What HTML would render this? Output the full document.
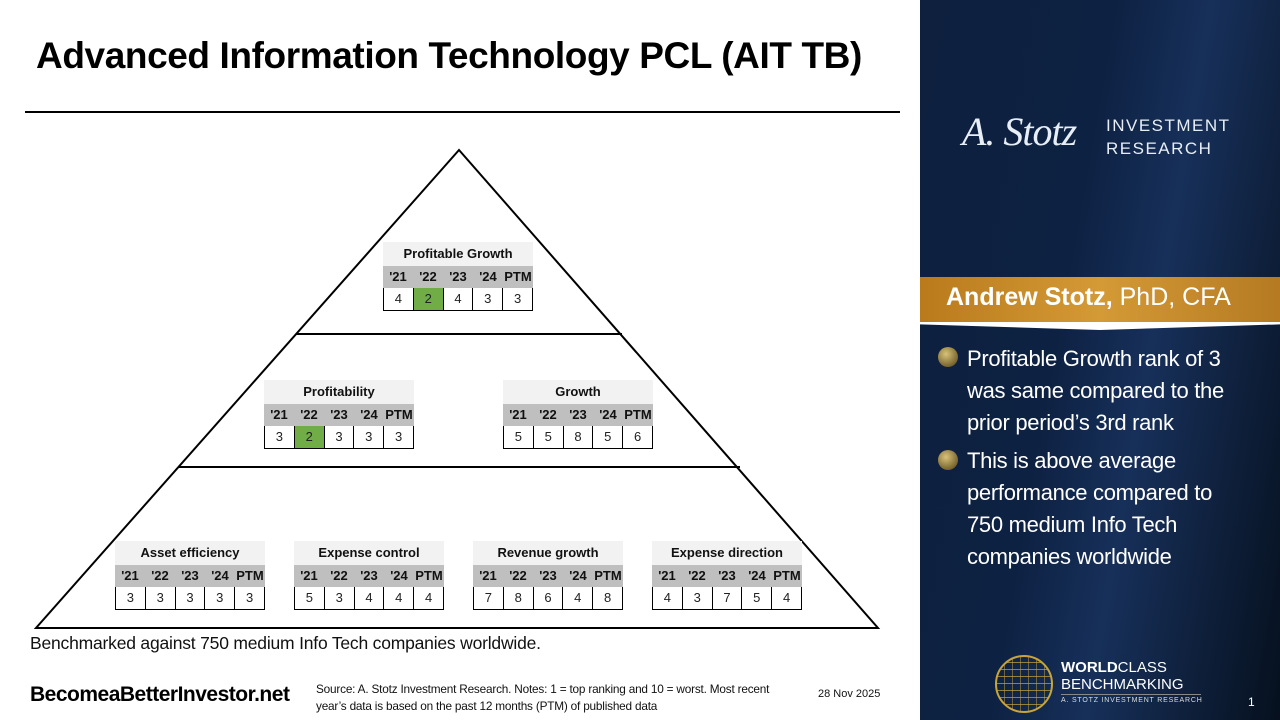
<!DOCTYPE html>
<html><head><meta charset="utf-8"><style>
*{margin:0;padding:0;box-sizing:border-box}
body{width:1280px;height:720px;position:relative;background:#fff;font-family:"Liberation Sans",sans-serif;overflow:hidden}
.a{position:absolute}
.tb{position:absolute;width:150px;font-family:"Liberation Sans",sans-serif}
.tt{height:24px;background:#f2f2f2;font-weight:bold;font-size:13px;text-align:center;line-height:24px;color:#111}
.hd{height:22px;background:#bfbfbf;font-weight:bold;font-size:13px;display:flex;line-height:22px;color:#111}
.hd span{width:30px;text-align:center;white-space:nowrap}
.dr{height:23px;display:flex;border-left:1px solid #000;border-bottom:1px solid #000}
.dr span{width:30px;text-align:center;font-size:13px;line-height:22px;border-right:1px solid #000;color:#222}
.g{background:#70ad47}
.rp{left:920px;top:0;width:360px;height:720px;background:linear-gradient(100deg,#0e203e 0%,#0d2142 40%,#17305a 60%,#06101e 100%)}
.bl{color:#fff;font-size:22px;line-height:32px;position:absolute;left:967px;font-family:"Liberation Sans",sans-serif;letter-spacing:-0.3px}
.dot{position:absolute;width:20px;height:20px;border-radius:50%;background:radial-gradient(circle at 40% 35%,#d8c27a,#7a6630 70%,#3d3318);left:938px}
</style></head><body>
<div class="a" style="left:36px;top:35px;font-size:37px;font-weight:bold;color:#000;letter-spacing:-0.4px">Advanced Information Technology PCL (AIT TB)</div>
<div class="a" style="left:25px;top:111px;width:875px;height:2px;background:#000"></div>
<svg class="a" style="left:0;top:0" width="920" height="720">
<polygon points="459,150 36,628 878,628" fill="none" stroke="#000" stroke-width="2"/>
<line x1="296" y1="334" x2="622" y2="334" stroke="#000" stroke-width="2"/>
<line x1="178" y1="467" x2="740" y2="467" stroke="#000" stroke-width="2"/>
</svg>

<div class="tb" style="left:383px;top:242px"><div class="tt">Profitable Growth</div><div class="hd"><span>'21</span><span>'22</span><span>'23</span><span>'24</span><span>PTM</span></div><div class="dr"><span>4</span><span class="g">2</span><span>4</span><span>3</span><span>3</span></div></div>
<div class="tb" style="left:264px;top:380px"><div class="tt">Profitability</div><div class="hd"><span>'21</span><span>'22</span><span>'23</span><span>'24</span><span>PTM</span></div><div class="dr"><span>3</span><span class="g">2</span><span>3</span><span>3</span><span>3</span></div></div>
<div class="tb" style="left:503px;top:380px"><div class="tt">Growth</div><div class="hd"><span>'21</span><span>'22</span><span>'23</span><span>'24</span><span>PTM</span></div><div class="dr"><span>5</span><span>5</span><span>8</span><span>5</span><span>6</span></div></div>
<div class="tb" style="left:115px;top:541px"><div class="tt">Asset efficiency</div><div class="hd"><span>'21</span><span>'22</span><span>'23</span><span>'24</span><span>PTM</span></div><div class="dr"><span>3</span><span>3</span><span>3</span><span>3</span><span>3</span></div></div>
<div class="tb" style="left:294px;top:541px"><div class="tt">Expense control</div><div class="hd"><span>'21</span><span>'22</span><span>'23</span><span>'24</span><span>PTM</span></div><div class="dr"><span>5</span><span>3</span><span>4</span><span>4</span><span>4</span></div></div>
<div class="tb" style="left:473px;top:541px"><div class="tt">Revenue growth</div><div class="hd"><span>'21</span><span>'22</span><span>'23</span><span>'24</span><span>PTM</span></div><div class="dr"><span>7</span><span>8</span><span>6</span><span>4</span><span>8</span></div></div>
<div class="tb" style="left:652px;top:541px"><div class="tt">Expense direction</div><div class="hd"><span>'21</span><span>'22</span><span>'23</span><span>'24</span><span>PTM</span></div><div class="dr"><span>4</span><span>3</span><span>7</span><span>5</span><span>4</span></div></div>

<div class="a" style="left:30px;top:633px;font-size:17.5px;color:#111;letter-spacing:-0.2px">Benchmarked against 750 medium Info Tech companies worldwide.</div>
<div class="a" style="left:30px;top:683px;font-size:21px;font-weight:bold;color:#000;letter-spacing:-0.5px">BecomeaBetterInvestor.net</div>
<div class="a" style="left:316px;top:681px;font-size:11.8px;line-height:17px;color:#111;width:520px;letter-spacing:-0.2px">Source: A. Stotz Investment Research. Notes: 1 = top ranking and 10 = worst. Most recent<br>year’s data is based on the past 12 months (PTM) of published data</div>
<div class="a" style="left:818px;top:688px;font-size:11px;color:#111">28 Nov 2025</div>

<div class="a rp"></div>
<div class="a" style="left:962px;top:108px;font-family:'Liberation Serif',serif;font-style:italic;font-size:40px;color:#e8eef5;letter-spacing:-1px">A. Stotz</div>
<div class="a" style="left:1106px;top:114px;font-size:17px;line-height:23px;color:#e8eef5;letter-spacing:1.5px">INVESTMENT<br>RESEARCH</div>
<div class="a" style="left:920px;top:277px;width:360px;height:45px;background:linear-gradient(90deg,#b97a1c,#d49a36,#b57a22)"></div>
<div class="a" style="left:920px;top:322px;width:360px;height:8px;background:#fff;clip-path:polygon(0 0,100% 0,100% 30%,50% 100%,0 30%)"></div>
<div class="a" style="left:946px;top:283px;font-size:25px;color:#fff;letter-spacing:0px"><b>Andrew Stotz,</b> PhD, CFA</div>
<div class="dot" style="top:347px"></div>
<div class="dot" style="top:450px"></div>
<div class="bl" style="top:343px">Profitable Growth rank of 3<br>was same compared to the<br>prior period’s 3rd rank</div>
<div class="bl" style="top:445px">This is above average<br>performance compared to<br>750 medium Info Tech<br>companies worldwide</div>
<div class="a" style="left:995px;top:655px;width:58px;height:58px;border-radius:50%;border:2px solid #c9a43a;background:repeating-linear-gradient(0deg,transparent 0 6px,rgba(201,164,58,.7) 6px 7px),repeating-linear-gradient(90deg,transparent 0 7px,rgba(201,164,58,.5) 7px 8px)"></div>
<div class="a" style="left:1061px;top:659px;font-size:15px;line-height:17px;color:#fff;font-weight:bold">WORLD<span style="font-weight:normal">CLASS</span><br><span style="font-weight:normal">BENCHMARKING</span></div>
<div class="a" style="left:1061px;top:694px;width:140px;height:1px;background:#888"></div>
<div class="a" style="left:1061px;top:697px;font-size:7px;color:#ddd;letter-spacing:0.8px">A. STOTZ INVESTMENT RESEARCH</div>
<div class="a" style="left:1248px;top:695px;font-size:12px;color:#fff">1</div>
</body></html>
